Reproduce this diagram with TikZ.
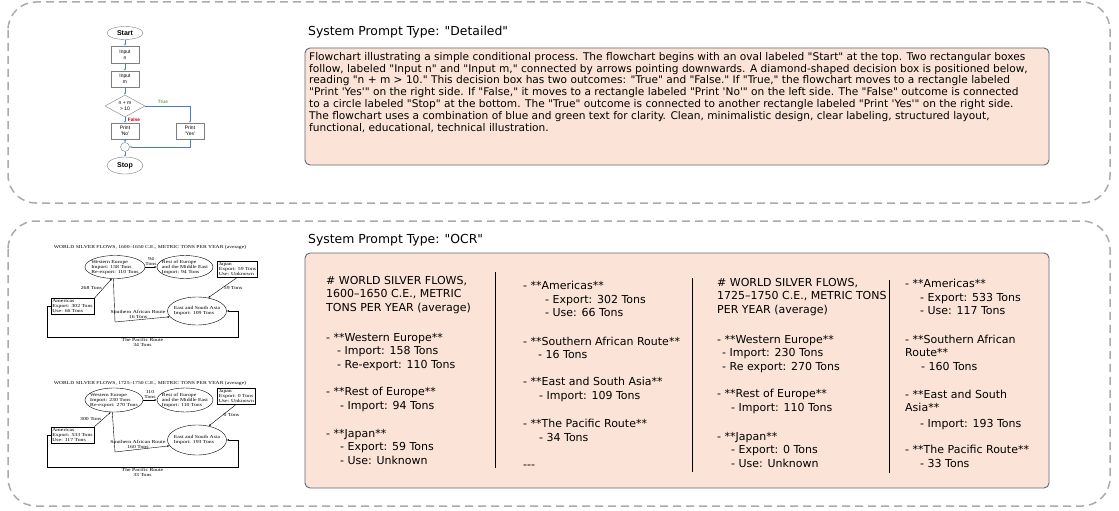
\documentclass[tikz,border=0pt]{standalone}
\usepackage{fontspec}
\setmainfont{DejaVu Sans}[Ligatures=TeXOff]
\newfontfamily\flowsans{Liberation Sans}[Ligatures=TeXOff]
\newfontfamily\mapserif{Liberation Serif}[FakeStretch=1.25]
\usetikzlibrary{positioning, shapes.geometric, arrows.meta}

\definecolor{panelfill}{HTML}{FBE4D7}
\definecolor{paneldraw}{HTML}{5E6873}
\definecolor{framegray}{HTML}{ABABAB}
\definecolor{flowblue}{HTML}{4A7EBB}
\definecolor{flowgray}{HTML}{7F7F7F}
\definecolor{truegreen}{HTML}{70AD47}
\definecolor{falsered}{HTML}{C00000}

\tikzset{
  outerframe/.style={draw=framegray, line width=1.5pt, dash pattern=on 8pt off 5pt, rounded corners=28pt},
  panel/.style={draw=paneldraw, fill=panelfill, line width=0.9pt, rounded corners=5pt},
  heading/.style={anchor=west, inner sep=0pt, font=\fontsize{12.4}{14}\selectfont},
  prose/.style={anchor=north west, inner sep=0pt, align=left, font=\fontsize{10.6}{11.8}\selectfont},
  ocr/.style={anchor=north west, inner sep=0pt, align=left, font=\fontsize{11}{13.6}\selectfont},
  colrule/.style={draw=black, line width=0.8pt},
  flowbox/.style={draw=flowgray, line width=0.4pt, minimum width=28pt, minimum height=16pt, inner sep=0pt, align=center, font=\flowsans\fontsize{5}{5.6}\selectfont},
  flowend/.style={flowbox, ellipse, minimum width=36pt, minimum height=13pt, font=\flowsans\bfseries\fontsize{7}{8}\selectfont},
  flowdec/.style={flowbox, diamond, minimum width=40pt, minimum height=22pt},
  flowjoin/.style={draw=flowgray, circle, minimum size=9pt, inner sep=0pt, line width=0.4pt},
  flowarrow/.style={draw=flowblue, line width=0.5pt, -{Latex[length=2pt,width=1.8pt]}},
  truelabel/.style={inner sep=0pt, text=truegreen, font=\flowsans\bfseries\fontsize{4.8}{5}\selectfont},
  falselabel/.style={inner sep=0pt, text=falsered, font=\flowsans\bfseries\fontsize{4.8}{5}\selectfont},
  maptitle/.style={inner sep=0pt, font=\mapserif\fontsize{4.5}{5}\selectfont},
  mapellipse/.style={draw, ellipse, line width=0.4pt, inner xsep=-5pt, inner ysep=-2pt, align=left, font=\mapserif\fontsize{4.6}{5}\selectfont},
  mapbox/.style={draw, line width=0.5pt, inner sep=1.5pt, align=left, font=\mapserif\fontsize{4.6}{5}\selectfont},
  maplabel/.style={inner sep=1pt, align=center, font=\mapserif\fontsize{4.6}{5}\selectfont},
  maparrow/.style={draw, line width=0.4pt, -{Latex[length=2.2pt,width=1.8pt]}}
}

\begin{document}
\begin{tikzpicture}[x=1pt, y=-1pt]
  \useasboundingbox (0,0) rectangle (1119,511);

  % frames and panels
  \draw[outerframe] (8,2) rectangle (1110,203);
  \draw[outerframe] (8,221) rectangle (1110,506);
  \draw[panel] (305,48) rectangle (1049,165);
  \draw[panel] (305,253) rectangle (1049,488);

  \node[heading] (detailhead) at (308,32) {System Prompt Type: "Detailed"};
  \node[heading] (ocrhead) at (308,240) {System Prompt Type: "OCR"};

  % flowchart
  \node[flowend] (start) at (125,33) {Start};
  \node[flowbox, minimum height=17pt] (inn) at (125,54.5) {Input\\n};
  \node[flowbox] (inm) at (125,79) {Input\\m};
  \node[flowdec] (cond) at (125,106) {n + m\\> 10};
  \node[flowbox] (printno) at (125,131) {Print\\'No'};
  \node[flowbox] (printyes) at (190,131) {Print\\'Yes'};
  \node[flowjoin] (join) at (125,147) {};
  \node[flowend, minimum height=17pt] (stop) at (125,165.5) {Stop};
  \node[truelabel] (truetxt) at (163,102) {True};
  \node[falselabel] (falsetxt) at (134,119.5) {False};

  \draw[flowarrow] (start) -- (inn);
  \draw[flowarrow] (inn) -- (inm);
  \draw[flowarrow] (inm) -- (cond);
  \draw[flowarrow] (cond) -- (printno);
  \draw[flowarrow] (cond.east) -| (printyes.north);
  \draw[flowarrow] (printno) -- (join);
  \draw[flowarrow] (printyes.south) |- (join.east);
  \draw[flowarrow] (join) -- (stop);

  % silver flows, 1600-1650
  \node[maptitle] (title1) at (150,247) {WORLD SILVER FLOWS, 1600–1650 C.E., METRIC TONS PER YEAR (average)};
  \node[mapellipse, minimum width=60pt, minimum height=23pt] (we1) at (115,267) {Western Europe\\Import: 158 Tons\\Re-export: 110 Tons};
  \node[mapellipse, minimum width=56pt, minimum height=23pt] (re1) at (185,267) {Rest of Europe\\and the Middle East\\Import: 94 Tons};
  \node[mapbox, anchor=west] (jp1) at (217,269) {Japan\\Export: 59 Tons\\Use: Unknown};
  \node[mapellipse, minimum width=59pt, minimum height=28pt] (esa1) at (197,311) {East and South Asia\\Import: 109 Tons};
  \node[mapbox] (am1) at (72.5,306.5) {Americas\\Export: 302 Tons\\Use: 66 Tons};
  \coordinate (sa1) at (115,322);
  \coordinate (pacl1) at (47,337);
  \coordinate (pacr1) at (238,337);

  \draw[maparrow] (we1) -- (re1) node[midway, above, maplabel] {94\\Tons};
  \draw[maparrow] (am1.north east) -- (we1.255) node[midway, left, maplabel] {268 Tons};
  \draw[maparrow] (we1.262) -- (sa1) -- (esa1.192) node[pos=0.42, above, maplabel] {Southern African Route\\16 Tons};
  \draw[maparrow] (jp1.south) -- (esa1.50) node[midway, right, maplabel] {59 Tons};
  \draw[maparrow] (am1.west) -| (pacl1) -- (pacr1) node[midway, below, maplabel] {The Pacific Route\\34 Tons} |- (esa1.east);

  % silver flows, 1725-1750
  \node[maptitle] (title2) at (150,383) {WORLD SILVER FLOWS, 1725–1750 C.E., METRIC TONS PER YEAR (average)};
  \node[mapellipse, minimum width=58pt, minimum height=24pt] (we2) at (114,400) {Western Europe\\Import: 230 Tons\\Re-export: 270 Tons};
  \node[mapellipse, minimum width=56pt, minimum height=24pt] (re2) at (185,400) {Rest of Europe\\and the Middle East\\Import: 110 Tons};
  \node[mapbox, anchor=west] (jp2) at (217,396) {Japan\\Export: 0 Tons\\Use: Unknown};
  \node[mapellipse, minimum width=59pt, minimum height=30pt] (esa2) at (197,440) {East and South Asia\\Import: 193 Tons};
  \node[mapbox] (am2) at (72.5,435) {Americas\\Export: 533 Tons\\Use: 117 Tons};
  \coordinate (sa2) at (115,452);
  \coordinate (pacl2) at (47,467);
  \coordinate (pacr2) at (238,467);

  \draw[maparrow] (we2) -- (re2) node[midway, above, maplabel] {110\\Tons};
  \draw[maparrow] (am2.north east) -- (we2.255) node[midway, left, maplabel] {300 Tons};
  \draw[maparrow] (we2.262) -- (sa2) -- (esa2.192) node[pos=0.42, above, maplabel] {Southern African Route\\160 Tons};
  \draw[maparrow] (jp2.south) -- (esa2.50) node[midway, right, maplabel] {0 Tons};
  \draw[maparrow] (am2.west) -| (pacl2) -- (pacr2) node[midway, below, maplabel] {The Pacific Route\\33 Tons} |- (esa2.east);

  % detailed prompt text
  \node[prose] (detailtext) at (309,52) {Flowchart illustrating a simple conditional process. The flowchart begins with an oval labeled "Start" at the top. Two rectangular boxes\\
follow, labeled "Input n" and "Input m," connected by arrows pointing downwards. A diamond-shaped decision box is positioned below,\\
reading "n + m > 10." This decision box has two outcomes: "True" and "False." If "True," the flowchart moves to a rectangle labeled\\
"Print 'Yes'" on the right side. If "False," it moves to a rectangle labeled "Print 'No'" on the left side. The "False" outcome is connected\\
to a circle labeled "Stop" at the bottom. The "True" outcome is connected to another rectangle labeled "Print 'Yes'" on the right side.\\
The flowchart uses a combination of blue and green text for clarity. Clean, minimalistic design, clear labeling, structured layout,\\
functional, educational, technical illustration.};

  % OCR text columns
  \node[ocr] (ocrone) at (326,276) {\# WORLD SILVER FLOWS,\\
1600–1650 C.E., METRIC\\
TONS PER YEAR (average)\\[16pt]
- **Western Europe**\\
\hspace*{11pt}- Import: 158 Tons\\
\hspace*{11pt}- Re-export: 110 Tons\\[14pt]
- **Rest of Europe**\\
\hspace*{14pt}- Import: 94 Tons\\[14pt]
- **Japan**\\
\hspace*{14pt}- Export: 59 Tons\\
\hspace*{14pt}- Use: Unknown};
  \node[ocr] (ocrtwo) at (523,281) {- **Americas**\\
\hspace*{22pt}- Export: 302 Tons\\
\hspace*{22pt}- Use: 66 Tons\\[15pt]
- **Southern African Route**\\
\hspace*{15pt}- 16 Tons\\[13pt]
- **East and South Asia**\\
\hspace*{16pt}- Import: 109 Tons\\[15pt]
- **The Pacific Route**\\
\hspace*{16pt}- 34 Tons\\[14pt]
---};
  \node[ocr] (ocrthree) at (717,278) {\# WORLD SILVER FLOWS,\\
1725–1750 C.E., METRIC TONS\\
PER YEAR (average)\\[16pt]
- **Western Europe**\\
\hspace*{5pt}- Import: 230 Tons\\
\hspace*{5pt}- Re export: 270 Tons\\[14pt]
- **Rest of Europe**\\
\hspace*{14pt}- Import: 110 Tons\\[15pt]
- **Japan**\\
\hspace*{14pt}- Export: 0 Tons\\
\hspace*{14pt}- Use: Unknown};
  \node[ocr] (ocrfour) at (905,279) {- **Americas**\\
\hspace*{15pt}- Export: 533 Tons\\
\hspace*{15pt}- Use: 117 Tons\\[15pt]
- **Southern African\\
Route**\\
\hspace*{16pt}- 160 Tons\\[14pt]
- **East and South\\
Asia**\\[2pt]
\hspace*{15pt}- Import: 193 Tons\\[13pt]
- **The Pacific Route**\\
\hspace*{15pt}- 33 Tons};

  \draw[colrule] (495,272) -- (495,468);
  \draw[colrule] (692,278) -- (692,472);
  \draw[colrule] (889,280) -- (889,473);
\end{tikzpicture}
\end{document}
